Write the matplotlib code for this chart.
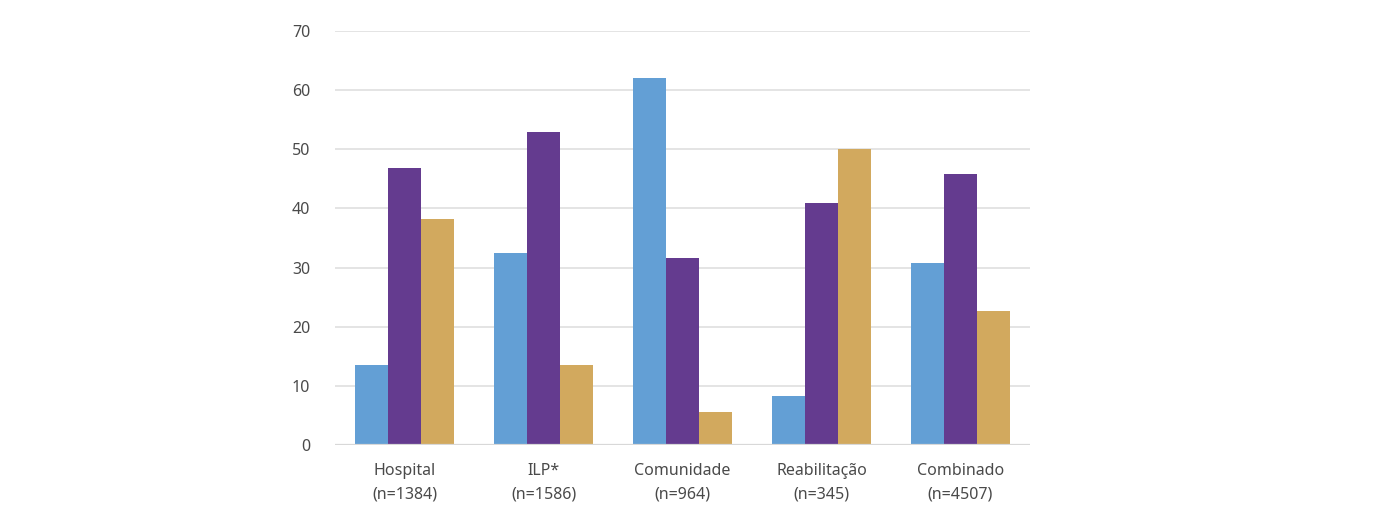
import numpy as np
import matplotlib
matplotlib.use("Agg")
import matplotlib.pyplot as plt

# Data
categories = ["Hospital\n(n=1384)", "ILP*\n(n=1586)", "Comunidade\n(n=964)",
              "Reabilitação\n(n=345)", "Combinado\n(n=4507)"]
serie_azul = [13.5, 32.4, 62.1, 8.3, 30.7]
serie_roxa = [46.8, 52.9, 31.7, 40.9, 45.8]
serie_dourada = [38.2, 13.5, 5.6, 50.0, 22.7]
yticks = [0, 10, 20, 30, 40, 50, 60, 70]

plt.rcParams["font.family"] = ["Noto Sans", "DejaVu Sans"]

fig = plt.figure(figsize=(13.81, 5.21), dpi=100)
ax = fig.add_axes([0.2426, 0.1459, 0.5032, 0.7946])

x = np.arange(len(categories))
w = 0.237
ax.bar(x - w, serie_azul, w, color="#639fd5", zorder=3)
ax.bar(x, serie_roxa, w, color="#643b8f", zorder=3)
ax.bar(x + w, serie_dourada, w, color="#d2a95e", zorder=3)

ax.set_xlim(-0.5, len(categories) - 0.5)
ax.set_ylim(0, 70)
ax.set_yticks(yticks)
ax.yaxis.grid(True, color="#e2e2e2", linewidth=1.3, zorder=0)
for s in ax.spines.values():
    s.set_visible(False)
ax.axhline(0, color="#d8d8d8", linewidth=1.6, zorder=4)

ax.set_xticks(x)
ax.set_xticklabels(categories, linespacing=1.6)
ax.tick_params(axis="both", length=0, labelsize=11.5, colors="#4a4a4a")
ax.tick_params(axis="y", pad=18)
ax.tick_params(axis="x", pad=13)

fig.savefig("out.png", dpi=100, facecolor="white")
